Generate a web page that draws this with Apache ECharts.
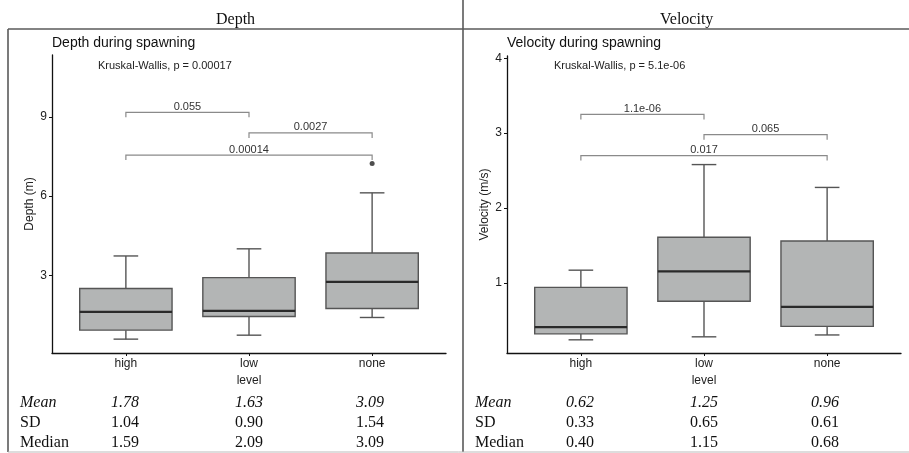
<!DOCTYPE html>
<html>
<head>
<meta charset="utf-8">
<style>
html, body { margin: 0; padding: 0; background: #fff; }
#main { width: 909px; height: 453px; }
</style>
<script src="https://cdn.jsdelivr.net/npm/echarts@6/dist/echarts.min.js"></script>
</head>
<body>
<div id="main"></div>
<script>
var levels = ['high', 'low', 'none'];

// boxes: [lower whisker, Q1, median, Q3, upper whisker]
var depthBoxes = [
	[0.58, 0.92, 1.61, 2.50, 3.73],
	[0.73, 1.44, 1.65, 2.91, 4.00],
	[1.40, 1.74, 2.75, 3.84, 6.12]
];
var depthOutliers = [[3, 7.23]];
// pairwise tests: [from, to, height, p]
var depthPairs = [
	[1, 2, 9.17, '0.055'],
	[2, 3, 8.39, '0.0027'],
	[1, 3, 7.55, '0.00014']
];
var depthTicks = [3, 6, 9];
var depthMean = ['1.78', '1.63', '3.09'];
var depthSD = ['1.04', '0.90', '1.54'];
var depthMedian = ['1.59', '2.09', '3.09'];

var velocityBoxes = [
	[0.24, 0.32, 0.41, 0.94, 1.17],
	[0.28, 0.755, 1.155, 1.61, 2.58],
	[0.305, 0.42, 0.68, 1.56, 2.275]
];
var velocityOutliers = [];
var velocityPairs = [
	[1, 2, 3.25, '1.1e-06'],
	[2, 3, 2.98, '0.065'],
	[1, 3, 2.70, '0.017']
];
var velocityTicks = [1, 2, 3, 4];
var velocityMean = ['0.62', '1.25', '0.96'];
var velocitySD = ['0.33', '0.65', '0.61'];
var velocityMedian = ['0.40', '1.15', '0.68'];

var BOX_W = 0.75, CAP_W = 0.2, TIP = 5;
var SANS = '"Liberation Sans", Arial, sans-serif';
var SERIF = '"Liberation Serif", "Times New Roman", serif';

//箱线图
function boxItem(params, api) {
	var x = api.value(0);
	var lo = api.coord([x, api.value(1)]);
	var q1 = api.coord([x, api.value(2)]);
	var md = api.coord([x, api.value(3)]);
	var q3 = api.coord([x, api.value(4)]);
	var hi = api.coord([x, api.value(5)]);
	var half = api.size([BOX_W, 0])[0] / 2;
	var cap = api.size([CAP_W, 0])[0] / 2;
	function ln(x1, y1, x2, y2) {
		return {type: 'line', shape: {x1: x1, y1: y1, x2: x2, y2: y2},
			style: {stroke: '#555', lineWidth: 1.4}};
	}
	return {type: 'group', children: [
		ln(hi[0], hi[1], q3[0], q3[1]),
		ln(lo[0], lo[1], q1[0], q1[1]),
		ln(hi[0] - cap, hi[1], hi[0] + cap, hi[1]),
		ln(lo[0] - cap, lo[1], lo[0] + cap, lo[1]),
		{type: 'rect', shape: {x: q3[0] - half, y: q3[1], width: half * 2, height: q1[1] - q3[1]},
			style: {fill: '#b3b5b5', stroke: '#555', lineWidth: 1.4}},
		{type: 'line', shape: {x1: md[0] - half, y1: md[1], x2: md[0] + half, y2: md[1]},
			style: {stroke: '#2a2a2a', lineWidth: 2.2}}
	]};
}

//显著性括号
function bracketItem(pairs) {
	return function(params, api) {
		var p = pairs[params.dataIndex];
		var a = api.coord([p[0], p[2]]);
		var b = api.coord([p[1], p[2]]);
		return {type: 'group', children: [
			{type: 'polyline', shape: {points: [[a[0], a[1] + TIP], [a[0], a[1]], [b[0], b[1]], [b[0], b[1] + TIP]]},
				style: {stroke: '#8a8a8a', lineWidth: 1.2, fill: null}},
			{type: 'text', style: {text: p[3], x: (a[0] + b[0]) / 2, y: a[1], align: 'center',
				verticalAlign: 'bottom', font: '11px ' + SANS, fill: '#333'}}
		]};
	};
}

function xAxisOf(idx) {
	return {
		type: 'value', gridIndex: idx, min: 0.4, max: 3.6,
		name: 'level', nameLocation: 'middle', nameGap: 21,
		nameTextStyle: {fontFamily: SANS, fontSize: 12, color: '#222'},
		axisLine: {show: true, onZero: false, lineStyle: {color: '#111', width: 1.3}},
		axisTick: {show: true, length: 3, customValues: [1, 2, 3], lineStyle: {color: '#111'}},
		axisLabel: {customValues: [1, 2, 3], margin: 5, fontFamily: SANS, fontSize: 12, color: '#222',
			formatter: function(v) { return levels[Math.round(v) - 1]; }},
		splitLine: {show: false}
	};
}

function yAxisOf(idx, name, min, max, ticks) {
	return {
		type: 'value', gridIndex: idx, min: min, max: max,
		name: name, nameLocation: 'middle', nameGap: 16,
		nameTextStyle: {fontFamily: SANS, fontSize: 12, color: '#222'},
		axisLine: {show: true, onZero: false, lineStyle: {color: '#111', width: 1.3}},
		axisTick: {show: true, length: 3, customValues: ticks, lineStyle: {color: '#111'}},
		axisLabel: {customValues: ticks, margin: 5, fontFamily: SANS, fontSize: 12, color: '#222'},
		splitLine: {show: false}
	};
}

function panelSeries(idx, boxes, outliers, pairs) {
	return [{
		type: 'custom', xAxisIndex: idx, yAxisIndex: idx,
		renderItem: boxItem,
		encode: {x: 0, y: [1, 2, 3, 4, 5]},
		data: boxes.map(function(b, i) { return [i + 1].concat(b); }),
		silent: true
	}, {
		type: 'scatter', xAxisIndex: idx, yAxisIndex: idx,
		symbolSize: 5, itemStyle: {color: '#222'},
		data: outliers, silent: true
	}, {
		type: 'custom', xAxisIndex: idx, yAxisIndex: idx,
		renderItem: bracketItem(pairs),
		encode: {x: [0, 1], y: 2},
		data: pairs.map(function(p) { return [p[0], p[1], p[2]]; }),
		silent: true
	}];
}

function statTexts(labelX, colX, rows) {
	var out = [];
	var rowY = [402, 422, 442];
	rows.forEach(function(r, i) {
		var font = (i === 0 ? 'italic ' : '') + '16px ' + SERIF;
		out.push({type: 'text', left: labelX, top: rowY[i] - 7,
			style: {text: r[0], font: font, fill: '#111'}});
		r[1].forEach(function(v, j) {
			out.push({type: 'text', left: colX[j], top: rowY[i] - 7,
				style: {text: v, font: font, fill: '#111'}});
		});
	});
	return out;
}

var frame = {stroke: '#5a5a5a', lineWidth: 1.6};
var graphics = [
	{type: 'line', shape: {x1: 8, y1: 29, x2: 909, y2: 29}, style: frame},
	{type: 'line', shape: {x1: 8, y1: 29, x2: 8, y2: 452}, style: frame},
	{type: 'line', shape: {x1: 463, y1: 0, x2: 463, y2: 452}, style: frame},
	{type: 'line', shape: {x1: 8, y1: 452, x2: 909, y2: 452}, style: {stroke: '#bbb', lineWidth: 1}},
	{type: 'text', left: 216, top: 12, style: {text: 'Depth', font: '16px ' + SERIF, fill: '#111'}},
	{type: 'text', left: 660, top: 12, style: {text: 'Velocity', font: '16px ' + SERIF, fill: '#111'}},
	{type: 'text', left: 52, top: 36, style: {text: 'Depth during spawning', font: '14px ' + SANS, fill: '#111'}},
	{type: 'text', left: 507, top: 36, style: {text: 'Velocity during spawning', font: '14px ' + SANS, fill: '#111'}},
	{type: 'text', left: 98, top: 60, style: {text: 'Kruskal-Wallis, p = 0.00017', font: '11px ' + SANS, fill: '#222'}},
	{type: 'text', left: 554, top: 60, style: {text: 'Kruskal-Wallis, p = 5.1e-06', font: '11px ' + SANS, fill: '#222'}}
].concat(
	statTexts(20, [111, 235, 356], [['Mean', depthMean], ['SD', depthSD], ['Median', depthMedian]]),
	statTexts(475, [566, 690, 811], [['Mean', velocityMean], ['SD', velocitySD], ['Median', velocityMedian]])
);

var option = {
	animation: false,
	backgroundColor: '#fff',
	grid: [
		{left: 52, top: 55, width: 394, height: 298},
		{left: 507, top: 56, width: 394, height: 297}
	],
	xAxis: [xAxisOf(0), xAxisOf(1)],
	yAxis: [
		yAxisOf(0, 'Depth (m)', 0.055, 11.34, depthTicks),
		yAxisOf(1, 'Velocity (m/s)', 0.064, 4.03, velocityTicks)
	],
	series: panelSeries(0, depthBoxes, depthOutliers, depthPairs)
		.concat(panelSeries(1, velocityBoxes, velocityOutliers, velocityPairs)),
	graphic: graphics
};

var myChart = echarts.init(document.getElementById('main'));
myChart.setOption(option, true);
</script>
</body>
</html>
